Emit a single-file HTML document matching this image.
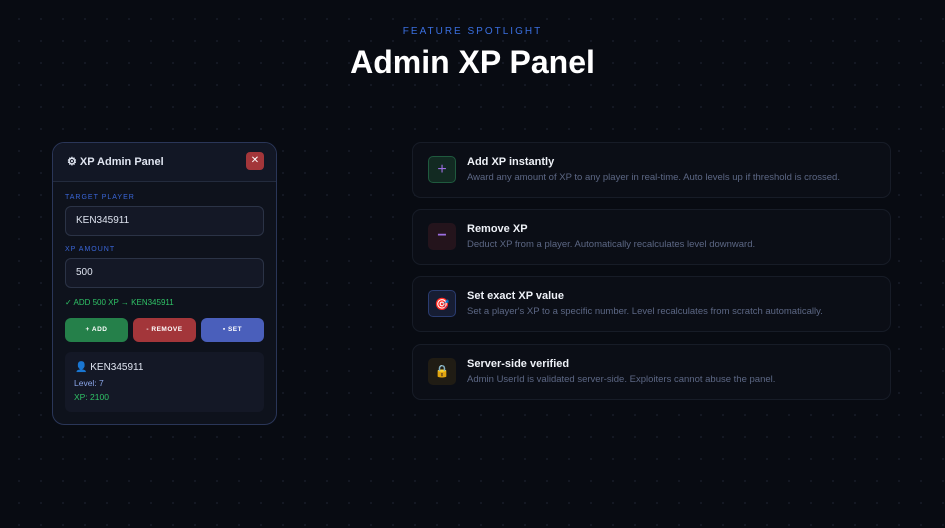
<!DOCTYPE html>
<html><head><meta charset="utf-8"><style>
*{box-sizing:border-box;margin:0;padding:0}
body{width:945px;height:528px;overflow:hidden;background:#080b12;font-family:"Liberation Sans",sans-serif;position:relative;
background-image:radial-gradient(circle,#141924 1px,transparent 1.3px);background-size:22px 22px;background-position:8px 8px}
.abs{position:absolute}
.kick{left:0;width:945px;top:26px;text-align:center;color:#3a6fe0;font-size:10px;letter-spacing:2px}
.h1{left:0;width:945px;top:44px;text-align:center;color:#fff;font-size:32px;font-weight:bold;letter-spacing:0}
.panel{left:52px;top:142px;width:225px;height:283px;background:#0e121c;border:1px solid #2a3658;border-radius:12px;overflow:hidden}
.ph{height:39px;border-bottom:1px solid #232b3d;background:#121725}
.pt{left:14px;top:12px;color:#dfe4f0;font-size:11px;font-weight:bold}
.x{left:193px;top:9px;width:18px;height:18px;background:#a3363a;border-radius:4px;color:#fff;font-size:10px;text-align:center;line-height:18px}
.lbl{color:#3a66d8;font-size:7px;letter-spacing:1px;left:12px}
.inp{left:12px;width:199px;height:30px;border:1px solid #2b3346;border-radius:6px;background:#141826;color:#dfe4f0;font-size:10px;padding-left:10px;line-height:28px}
.st{left:12px;top:155px;color:#2fc266;font-size:8px}
.btn{top:175px;width:63px;height:24px;border-radius:6px;color:#fff;font-size:6.5px;font-weight:bold;text-align:center;line-height:24px;letter-spacing:.5px}
.info{left:12px;top:209px;width:199px;height:60px;background:#141826;border-radius:6px}
.card{left:412px;width:479px;height:56px;border:1px solid #171c27;border-radius:9px;background:#0b0e16}
.ic{left:15px;top:13px;width:28px;height:27px;border-radius:5px;text-align:center;line-height:26px;font-size:16px}
.ct{left:54px;top:13px;color:#eef1f7;font-size:11px;font-weight:bold}
.cd{left:54px;top:29px;color:#5c6784;font-size:9.5px}
</style></head><body>
<div class="abs kick">FEATURE SPOTLIGHT</div>
<div class="abs h1">Admin XP Panel</div>

<div class="abs panel">
 <div class="ph"></div>
 <div class="abs pt">⚙ XP Admin Panel</div>
 <div class="abs x">✕</div>
 <div class="abs lbl" style="top:51px">TARGET PLAYER</div>
 <div class="abs inp" style="top:63px">KEN345911</div>
 <div class="abs lbl" style="top:103px">XP AMOUNT</div>
 <div class="abs inp" style="top:115px">500</div>
 <div class="abs st">✓ ADD 500 XP → KEN345911</div>
 <div class="abs btn" style="left:12px;background:#25804a">+ ADD</div>
 <div class="abs btn" style="left:80px;background:#a3363a">- REMOVE</div>
 <div class="abs btn" style="left:148px;background:#4a5fbb">▪ SET</div>
 <div class="abs info">
  <div class="abs" style="left:10px;top:10px;color:#dfe4f0;font-size:10px"><span style="color:#6a3fa0">👤</span> KEN345911</div>
  <div class="abs" style="left:9px;top:26px;color:#8aa5e8;font-size:8.5px">Level: 7</div>
  <div class="abs" style="left:9px;top:40px;color:#2fc266;font-size:8.5px">XP: 2100</div>
 </div>
</div>

<div class="abs card" style="top:142px"><div class="abs ic" style="background:#122a22;border:1px solid #1f5a3e;color:#9b6ee0">+</div><div class="abs ct">Add XP instantly</div><div class="abs cd">Award any amount of XP to any player in real-time. Auto levels up if threshold is crossed.</div></div>
<div class="abs card" style="top:209px"><div class="abs ic" style="background:#24141c;color:#9b6ee0;font-weight:bold">−</div><div class="abs ct">Remove XP</div><div class="abs cd">Deduct XP from a player. Automatically recalculates level downward.</div></div>
<div class="abs card" style="top:276px"><div class="abs ic" style="background:#161d33;border:1px solid #2a3c70;color:#e0406a;font-size:12px">🎯</div><div class="abs ct">Set exact XP value</div><div class="abs cd">Set a player's XP to a specific number. Level recalculates from scratch automatically.</div></div>
<div class="abs card" style="top:344px"><div class="abs ic" style="background:#201c14;color:#e8a83a;font-size:12px">🔒</div><div class="abs ct">Server-side verified</div><div class="abs cd">Admin UserId is validated server-side. Exploiters cannot abuse the panel.</div></div>
</body></html>
